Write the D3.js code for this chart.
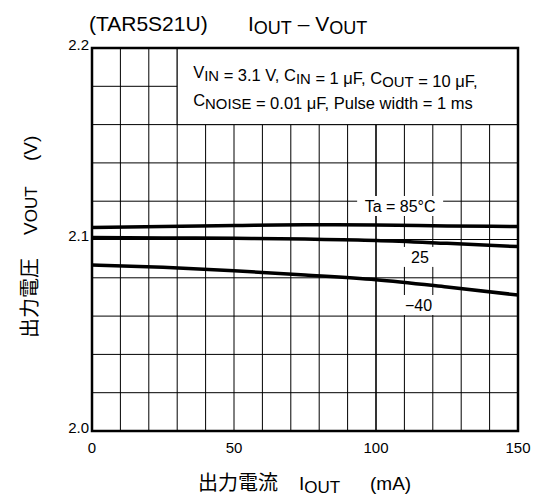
<!DOCTYPE html>
<html>
<head>
<meta charset="utf-8">
<script src="https://cdn.jsdelivr.net/npm/d3@7"></script>
<style>
  body { margin: 0; background: #fff; }
  text { font-family: "Liberation Sans", Arial, sans-serif; fill: #000; }
  .jp { font-family: "Noto Sans CJK JP", sans-serif; }
</style>
</head>
<body>
<script>
// data
var iout = [0, 25, 50, 75, 100, 125, 150];
var vout85 = [2.1063, 2.1068, 2.1073, 2.1077, 2.1076, 2.1071, 2.1068];
var vout25 = [2.1010, 2.1008, 2.1006, 2.1002, 2.0995, 2.0980, 2.0963];
var voutM40 = [2.0867, 2.0855, 2.0837, 2.0815, 2.0790, 2.0752, 2.0710];
var xTicks = [0, 50, 100, 150];
var yTicks = [2.0, 2.1, 2.2];

var width = 534, height = 499;
var pL = 92, pT = 48, pR = 518, pB = 431;

var svg = d3.select("body").append("svg")
  .attr("width", width)
  .attr("height", height);

var x = d3.scaleLinear().domain([0, 150]).range([pL, pR]);
var y = d3.scaleLinear().domain([2.0, 2.2]).range([pB, pT]);

// grid: 10 mA x 0.02 V
var grid = svg.append("g").attr("class", "grid");
grid.selectAll("line.v")
  .data(d3.range(10, 150, 10))
  .enter().append("line")
  .attr("class", "v")
  .attr("x1", function (d) { return x(d); })
  .attr("x2", function (d) { return x(d); })
  .attr("y1", pT).attr("y2", pB)
  .attr("stroke", "#000")
  .attr("stroke-width", function (d) { return d === 100 ? 1.6 : 1; });
grid.selectAll("line.h")
  .data(d3.range(1, 10).map(function (i) { return 2.0 + i * 0.02; }))
  .enter().append("line")
  .attr("class", "h")
  .attr("x1", pL).attr("x2", pR)
  .attr("y1", function (d) { return y(d); })
  .attr("y2", function (d) { return y(d); })
  .attr("stroke", "#000")
  .attr("stroke-width", 1);

// conditions box
var box = svg.append("g").attr("class", "cond");
box.append("rect")
  .attr("x", x(30)).attr("y", y(2.2))
  .attr("width", x(150) - x(30)).attr("height", y(2.16) - y(2.2))
  .style("fill", "#ffffff").style("stroke", "#000").style("stroke-width", "1px");

function sub(t, parts, size) {
  parts.forEach(function (p) {
    if (p[1]) {
      t.append("tspan").attr("font-size", size * 0.9).attr("dy", 3).text(p[0]);
      t.append("tspan").attr("dy", -3).text("");
    } else {
      t.append("tspan").text(p[0]);
    }
  });
}

var c1 = box.append("text").attr("x", x(30) + 16).attr("y", 78).attr("font-size", 16.5);
sub(c1, [["V"], ["IN", 1], [" = 3.1 V, C"], ["IN", 1], [" = 1 \u03bcF, C"], ["OUT", 1], [" = 10 \u03bcF,"]], 16.5);
var c2 = box.append("text").attr("x", x(30) + 16).attr("y", 106).attr("font-size", 16.5);
sub(c2, [["C"], ["NOISE", 1], [" = 0.01 \u03bcF, Pulse width = 1 ms"]], 16.5);

// temperature labels
var labels = [
  {t: "Ta = 85\u00b0C", mx: 108.5, v: 2.1175, w: 86},
  {t: "25", mx: 115.5, v: 2.0909, w: 40},
  {t: "\u221240", mx: 115, v: 2.0658, w: 40}
];
var lab = svg.append("g").attr("class", "labels");
lab.selectAll("rect")
  .data(labels)
  .enter().append("rect")
  .attr("x", function (d) { return x(d.mx) - d.w / 2; })
  .attr("y", function (d) { return y(d.v) - 10; })
  .attr("width", function (d) { return d.w; })
  .attr("height", 20)
  .style("fill", "#ffffff");
lab.selectAll("text")
  .data(labels)
  .enter().append("text")
  .attr("x", function (d) { return x(d.mx); })
  .attr("y", function (d) { return y(d.v); })
  .attr("dy", "0.35em")
  .attr("text-anchor", "middle")
  .attr("font-size", 16)
  .text(function (d) { return d.t; });

// curves
var line = d3.line()
  .x(function (d) { return x(d[0]); })
  .y(function (d) { return y(d[1]); })
  .curve(d3.curveMonotoneX);
[vout85, vout25, voutM40].forEach(function (s) {
  svg.append("path")
    .datum(iout.map(function (m, i) { return [m, s[i]]; }))
    .attr("d", line)
    .attr("fill", "none")
    .attr("stroke", "#000")
    .attr("stroke-width", 3.5);
});

// frame
svg.append("rect")
  .attr("x", pL).attr("y", pT)
  .attr("width", pR - pL).attr("height", pB - pT)
  .attr("fill", "none").attr("stroke", "#000").attr("stroke-width", 2.5);

// tick labels
svg.append("g").selectAll("text")
  .data(yTicks)
  .enter().append("text")
  .attr("x", pL - 3)
  .attr("y", function (d) { return y(d); })
  .attr("dy", "0.1em")
  .attr("text-anchor", "end")
  .attr("font-size", 15)
  .text(function (d) { return d.toFixed(1); });
svg.append("g").selectAll("text")
  .data(xTicks)
  .enter().append("text")
  .attr("x", function (d) { return x(d); })
  .attr("y", pB + 22)
  .attr("text-anchor", "middle")
  .attr("font-size", 15)
  .text(function (d) { return d; });

// titles
var t1 = svg.append("text").attr("x", 89).attr("y", 31).attr("font-size", 21);
t1.append("tspan").text("(TAR5S21U)");
t1.append("tspan").attr("x", 248).text("I");
t1.append("tspan").attr("font-size", 18).attr("dy", 3).text("OUT");
t1.append("tspan").attr("dy", -3).text(" \u2013 V");
t1.append("tspan").attr("font-size", 18).attr("dy", 3).text("OUT");

var xt = svg.append("g").attr("class", "xtitle");
xt.append("text").attr("class", "jp").attr("x", 198).attr("y", 490).attr("font-size", 20)
  .text("\u51fa\u529b\u96fb\u6d41");
var xi = xt.append("text").attr("x", 299).attr("y", 490).attr("font-size", 19);
xi.append("tspan").text("I");
xi.append("tspan").attr("font-size", 17).attr("dy", 3).text("OUT");
xt.append("text").attr("x", 370).attr("y", 490).attr("font-size", 19).text("(mA)");

var yt = svg.append("g").attr("transform", "translate(37,0) rotate(-90)");
yt.append("text").attr("class", "jp").attr("x", -338).attr("y", 0).attr("font-size", 20)
  .text("\u51fa\u529b\u96fb\u5727");
var yv = yt.append("text").attr("x", -235).attr("y", 0).attr("font-size", 19);
yv.append("tspan").text("V");
yv.append("tspan").attr("font-size", 17).text("OUT");
yt.append("text").attr("x", -161).attr("y", 0).attr("font-size", 19).text("(V)");
</script>
</body>
</html>
